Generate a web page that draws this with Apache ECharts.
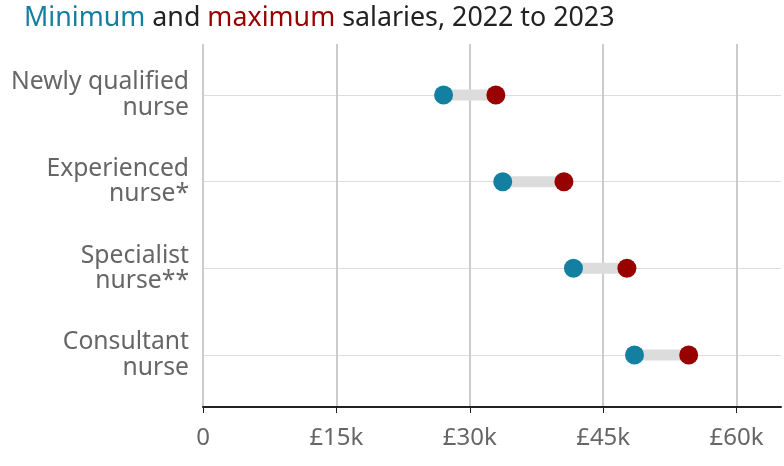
<!DOCTYPE html>
<html>
<head>
<meta charset="utf-8">
<script src="https://cdn.jsdelivr.net/npm/echarts@6/dist/echarts.min.js"></script>
<style>
html,body{margin:0;padding:0;background:#fff;}
#chart{width:784px;height:466px;}
</style>
</head>
<body>
<div id="chart"></div>
<script>
const categories = ['Newly qualified\nnurse', 'Experienced\nnurse*', 'Specialist\nnurse**', 'Consultant\nnurse'];
const minSalary = [27055, 33706, 41659, 48526];
const maxSalary = [32934, 40588, 47672, 54619];
const xTicks = [0, 15000, 30000, 45000, 60000];
const xTickLabels = ['0', '£15k', '£30k', '£45k', '£60k'];

const TEAL = '#1380a1';
const RED = '#990000';
const FONT = 'Noto Sans';

const chart = echarts.init(document.getElementById('chart'), null, {renderer: 'canvas'});
const gap = maxSalary.map((v, i) => v - minSalary[i]);

chart.setOption({
  animation: false,
  textStyle: {fontFamily: FONT},
  title: {
    left: 19, top: 0,
    text: '{a|Minimum}{b| and }{c|maximum}{b| salaries, 2022 to 2023}',
    textStyle: {
      fontWeight: 'normal',
      rich: {
        a: {color: TEAL, fontSize: 26.8, fontWeight: 'normal', fontFamily: FONT},
        b: {color: '#222', fontSize: 26.8, fontWeight: 'normal', fontFamily: FONT},
        c: {color: RED, fontSize: 26.8, fontWeight: 'normal', fontFamily: FONT}
      }
    }
  },
  grid: [
    {left: 203, right: 3, top: 44, bottom: 59},
    {left: 203, right: 3, top: 95, bottom: 111}
  ],
  xAxis: [
    {
      gridIndex: 0, type: 'value', min: 0, max: 65000, interval: 15000,
      axisLine: {show: true, lineStyle: {color: '#222', width: 2}},
      axisTick: {show: true, length: 6, lineStyle: {color: '#222', width: 1}},
      axisLabel: {
        color: '#666', fontSize: 24, margin: 19, fontFamily: FONT, showMaxLabel: false,
        formatter: v => { const i = xTicks.indexOf(v); return i >= 0 ? xTickLabels[i] : ''; }
      },
      splitLine: {show: true, lineStyle: {color: ['#cccccc','#cccccc','#cccccc','#cccccc','#cccccc','rgba(0,0,0,0)'], width: 2}}
    },
    {
      gridIndex: 1, type: 'value', min: 0, max: 65000, show: false
    }
  ],
  yAxis: [
    {gridIndex: 0, type: 'value', min: 0, max: 1, show: false},
    {
      gridIndex: 1, type: 'category', data: categories, inverse: true, boundaryGap: false,
      axisLine: {show: false}, axisTick: {show: false},
      axisLabel: {color: '#666', fontSize: 24.7, lineHeight: 25.5, margin: 14, fontFamily: FONT, align: 'right', padding: [4, 0, 0, 0]},
      splitLine: {show: true, lineStyle: {color: '#dddddd', width: 1}}
    }
  ],
  series: [
    {
      type: 'bar', xAxisIndex: 1, yAxisIndex: 1, stack: 'r', data: minSalary,
      barWidth: 11, itemStyle: {color: 'rgba(0,0,0,0)'}, silent: true
    },
    {
      type: 'bar', xAxisIndex: 1, yAxisIndex: 1, stack: 'r', data: gap,
      barWidth: 11, itemStyle: {color: '#dcdcdc'}, silent: true
    },
    {
      type: 'scatter', xAxisIndex: 1, yAxisIndex: 1, data: minSalary,
      symbolSize: 19, itemStyle: {color: TEAL, opacity: 1}, z: 5
    },
    {
      type: 'scatter', xAxisIndex: 1, yAxisIndex: 1, data: maxSalary,
      symbolSize: 19, itemStyle: {color: RED, opacity: 1}, z: 5
    }
  ]
});
</script>
</body>
</html>
